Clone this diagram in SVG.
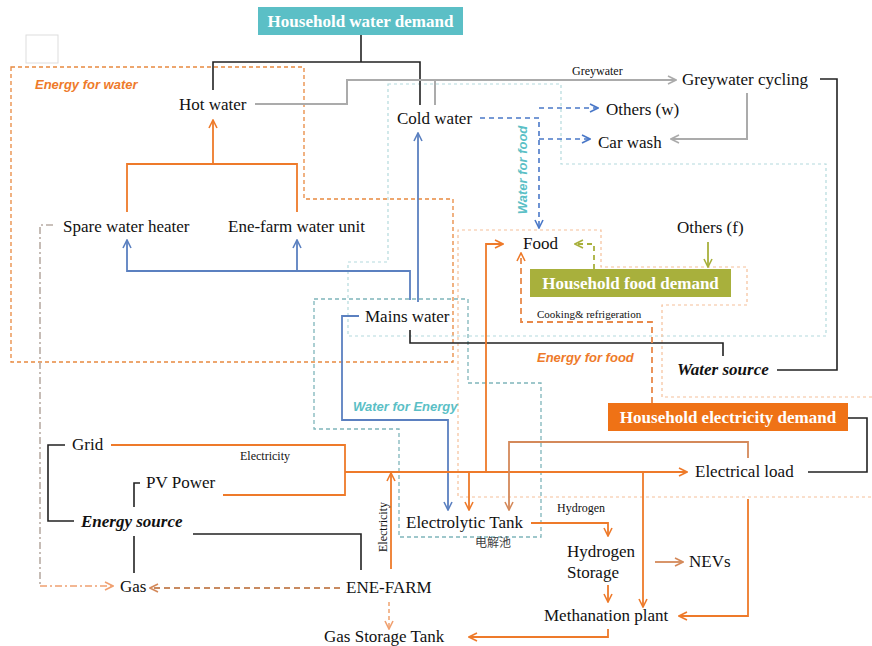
<svg xmlns="http://www.w3.org/2000/svg" width="872" height="646" viewBox="0 0 872 646">
<style>
.t{font-family:"Liberation Serif","Times New Roman",serif;font-size:17px;fill:#111}
.s{font-family:"Liberation Serif","Times New Roman",serif;font-size:12px;fill:#111}
.bi{font-family:"Liberation Serif","Times New Roman",serif;font-size:17px;font-weight:bold;font-style:italic;fill:#111}
.hd{font-family:"Liberation Serif","Times New Roman",serif;font-size:17px;font-weight:bold;fill:#fff;text-anchor:middle}
.cat{font-family:"Liberation Sans",Arial,sans-serif;font-size:13px;font-weight:bold;font-style:italic}
.k{fill:none;stroke:#222;stroke-width:1.6}
.g{fill:none;stroke:#ababab;stroke-width:2}
.b{fill:none;stroke:#5b80c0;stroke-width:1.8}
.bd{fill:none;stroke:#4a78c8;stroke-width:1.6;stroke-dasharray:5 4}
.o{fill:none;stroke:#ee7a2a;stroke-width:1.8}
.ob{fill:none;stroke:#d4895a;stroke-width:1.8}
.od{fill:none;stroke:#e8894a;stroke-width:1.8;stroke-dasharray:6 4}
.gr{fill:none;stroke:#a8b03c;stroke-width:1.8}
</style>
<defs>
<marker id="aB" viewBox="0 0 10 10" refX="9" refY="5" markerWidth="10" markerHeight="10" markerUnits="userSpaceOnUse" orient="auto"><path d="M1,1 L9,5 L1,9" fill="none" stroke="#5b80c0" stroke-width="1.6"/></marker>
<marker id="aBd" viewBox="0 0 10 10" refX="9" refY="5" markerWidth="10" markerHeight="10" markerUnits="userSpaceOnUse" orient="auto"><path d="M1,1 L9,5 L1,9" fill="none" stroke="#4a78c8" stroke-width="1.6"/></marker>
<marker id="aO" viewBox="0 0 10 10" refX="9" refY="5" markerWidth="10" markerHeight="10" markerUnits="userSpaceOnUse" orient="auto"><path d="M1,1 L9,5 L1,9" fill="none" stroke="#ee7a2a" stroke-width="1.6"/></marker>
<marker id="aOb" viewBox="0 0 10 10" refX="9" refY="5" markerWidth="10" markerHeight="10" markerUnits="userSpaceOnUse" orient="auto"><path d="M1,1 L9,5 L1,9" fill="none" stroke="#d4895a" stroke-width="1.6"/></marker>
<marker id="aOl" viewBox="0 0 10 10" refX="9" refY="5" markerWidth="10" markerHeight="10" markerUnits="userSpaceOnUse" orient="auto"><path d="M1,1 L9,5 L1,9" fill="none" stroke="#f0a070" stroke-width="1.6"/></marker>
<marker id="aG" viewBox="0 0 10 10" refX="9" refY="5" markerWidth="10" markerHeight="10" markerUnits="userSpaceOnUse" orient="auto"><path d="M1,1 L9,5 L1,9" fill="none" stroke="#ababab" stroke-width="1.6"/></marker>
<marker id="aGr" viewBox="0 0 10 10" refX="9" refY="5" markerWidth="10" markerHeight="10" markerUnits="userSpaceOnUse" orient="auto"><path d="M1,1 L9,5 L1,9" fill="none" stroke="#a8b03c" stroke-width="1.6"/></marker>
</defs>
<rect width="872" height="646" fill="#fff"/>
<rect x="26" y="35" width="32" height="28" fill="none" stroke="#dddddd" stroke-width="1"/>

<g id="regions">
<path d="M11,67 H304 V199 H453 V362 H11 Z" fill="none" stroke="#e8893f" stroke-width="1.3" stroke-dasharray="4 3"/>
<path d="M388,84 H561 V164 H826 V336 H348 V262 H388 Z" fill="none" stroke="#b4dadd" stroke-width="1.2" stroke-dasharray="3 3"/>
<path d="M314,299 H468 V383 H541 V537 H399 V429 H314 Z" fill="none" stroke="#7fb5ba" stroke-width="1.3" stroke-dasharray="4 3"/>
<path d="M872,397 H662 V305 H747 V267 H601 V230 H458 V497 H872" fill="none" stroke="#f5c09a" stroke-width="1.2" stroke-dasharray="3 3"/>
<text class="cat" x="35" y="89" fill="#ee7a2a">Energy for water</text>
<text class="cat" x="0" y="0" fill="#5bbfc6" text-anchor="middle" transform="translate(527,170) rotate(-90)">Water for food</text>
<text class="cat" x="353" y="411" fill="#5bbfc6">Water for Energy</text>
<text class="cat" x="537" y="362" fill="#ee7a2a">Energy for food</text>
</g>

<g id="connectors">
<path class="k" d="M361,35 V62 M213,90 V62 H420 V105"/>
<path class="k" d="M820,79 H837 V370 H777"/>
<path class="k" d="M410,330 V343 H723 V356"/>
<path class="k" d="M848,418 H867 V472 H808"/>
<path class="k" d="M65,445 H48 V521 H74"/>
<path class="k" d="M140,483 H134 V507 M134,536 V573"/>
<path class="k" d="M193,534 H361 V570"/>

<path class="g" d="M255,104 H347 V80 H676" marker-end="url(#aG)"/>
<path class="g" d="M435,105 V80"/>
<path class="g" d="M747,93 V139 H671" marker-end="url(#aG)"/>

<path class="bd" d="M480,118 H539 V228" marker-end="url(#aBd)"/>
<path class="bd" d="M539,108 H598" marker-end="url(#aBd)"/>
<path class="bd" d="M539,139 H590" marker-end="url(#aBd)"/>

<path class="b" d="M410,300 V271 H127 V240" marker-end="url(#aB)"/>
<path class="b" d="M297,271 V240" marker-end="url(#aB)"/>
<path class="b" d="M418,302 V133" marker-end="url(#aB)"/>
<path class="b" d="M359,316 H342 V420 H448 V510" marker-end="url(#aB)"/>

<path class="o" d="M127,212 V164 H297 V212"/>
<path class="o" d="M213,164 V120" marker-end="url(#aO)"/>
<path class="o" d="M111,445 H345 V495 H223"/>
<path class="o" d="M345,472 H687" marker-end="url(#aO)"/>
<path class="o" d="M391,569 V473" marker-end="url(#aO)"/>
<path class="o" d="M469,472 V510" marker-end="url(#aO)"/>
<path class="o" d="M486,472 V244 H503" marker-end="url(#aO)"/>
<path class="o" d="M643,472 V607" marker-end="url(#aO)"/>
<path class="o" d="M748,499 V616 H679" marker-end="url(#aO)"/>
<path class="o" d="M531,523 H608 V536" marker-end="url(#aO)"/>
<path class="o" d="M608,585 V602" marker-end="url(#aO)"/>
<path class="ob" d="M655,562 H683" marker-end="url(#aOb)"/>
<path class="o" d="M608,629 V637 H469" marker-end="url(#aO)"/>
<path class="ob" d="M748,458 V442 H509 V510" marker-end="url(#aOb)"/>

<path class="od" d="M652,403 V322 H521 V253" marker-end="url(#aO)"/>
<path fill="none" stroke="#c88a60" stroke-width="1.8" stroke-dasharray="6 4" d="M340,588 H150" marker-end="url(#aOb)"/>
<path fill="none" stroke="#f0a878" stroke-width="1.6" stroke-dasharray="4 3" d="M389,602 V629" marker-end="url(#aOl)"/>

<path class="gr" stroke-dasharray="5 4" d="M594,269 V244 H575" marker-end="url(#aGr)"/>
<path class="gr" d="M708,242 V267" marker-end="url(#aGr)"/>

<path fill="none" stroke="#b8aca4" stroke-width="1.6" stroke-dasharray="7 3 2 3" d="M53,225 H40 V586"/>
<path fill="none" stroke="#f0a070" stroke-width="1.6" stroke-dasharray="7 3 2 3" d="M40,586 H113" marker-end="url(#aOl)"/>

<text class="s" x="572" y="75">Greywater</text>
<text class="s" x="240" y="460">Electricity</text>
<text class="s" x="0" y="0" text-anchor="middle" transform="translate(387,527) rotate(-90)">Electricity</text>
<text class="s" x="557" y="512">Hydrogen</text>
<text class="s" x="537" y="318" style="font-size:11px">Cooking&amp; refrigeration</text>
</g>

<g id="n-water-demand"><rect x="258" y="7" width="205" height="28" fill="#5bbfc6"/><text class="hd" x="360.5" y="27">Household water demand</text></g>
<g id="n-food-demand"><rect x="530" y="269" width="201" height="28" fill="#a8b03c"/><text class="hd" x="630.5" y="289">Household food demand</text></g>
<g id="n-elec-demand"><rect x="608" y="403" width="240" height="28" fill="#ef7216"/><text class="hd" x="728" y="423">Household electricity demand</text></g>
<g id="n-hot"><text class="t" x="179" y="110">Hot water</text></g>
<g id="n-cold"><text class="t" x="397" y="124">Cold water</text></g>
<g id="n-grey"><text class="t" x="682" y="85">Greywater cycling</text></g>
<g id="n-othw"><text class="t" x="606" y="115">Others (w)</text></g>
<g id="n-car"><text class="t" x="598" y="148">Car wash</text></g>
<g id="n-spare"><text class="t" x="63" y="232">Spare water heater</text></g>
<g id="n-enefarm-w"><text class="t" x="228" y="232">Ene-farm water unit</text></g>
<g id="n-food"><text class="t" x="523" y="249">Food</text></g>
<g id="n-othf"><text class="t" x="677" y="233">Others (f)</text></g>
<g id="n-mains"><text class="t" x="365" y="322">Mains water</text></g>
<g id="n-wsrc"><text class="bi" x="677" y="375">Water source</text></g>
<g id="n-load"><text class="t" x="695" y="477">Electrical load</text></g>
<g id="n-grid"><text class="t" x="72" y="450">Grid</text></g>
<g id="n-pv"><text class="t" x="146" y="488">PV Power</text></g>
<g id="n-esrc"><text class="bi" x="81" y="527">Energy source</text></g>
<g id="n-gas"><text class="t" x="120" y="592">Gas</text></g>
<g id="n-enefarm"><text class="t" x="346" y="593">ENE-FARM</text></g>
<g id="n-gst"><text class="t" x="324" y="642">Gas Storage Tank</text></g>
<g id="n-etank"><text class="t" x="406" y="528">Electrolytic Tank</text><text x="475" y="547" style="font-family:'Liberation Sans','Noto Sans CJK SC',sans-serif;font-size:12px;fill:#444">电解池</text></g>
<g id="n-h2s"><text class="t" x="567" y="557">Hydrogen</text><text class="t" x="567" y="578">Storage</text></g>
<g id="n-nev"><text class="t" x="689" y="567">NEVs</text></g>
<g id="n-meth"><text class="t" x="544" y="621">Methanation plant</text></g>
</svg>
